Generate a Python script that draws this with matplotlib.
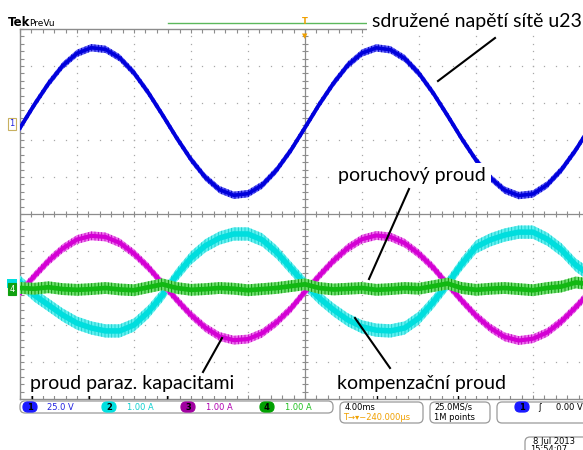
import numpy as np
import matplotlib
matplotlib.use("Agg")
import matplotlib.pyplot as plt
from matplotlib.patches import FancyBboxPatch
from matplotlib.lines import Line2D
from matplotlib.transforms import Affine2D

W, H = 583, 450

# time base: 4 ms/div, 10 div on screen
t_ms = list(range(0, 41))

# CH1 - sdruzene napeti site u23 [V], 25 V/div
u23 = [-2.6, 13.0, 27.4, 39.5, 47.8, 51.6, 50.5, 44.7, 34.6, 21.3,
       6.2, -9.4, -23.9, -35.9, -44.3, -48.1, -47.0, -41.2, -31.1, -17.8,
       -2.4, 13.3, 27.6, 39.8, 48.0, 51.5, 50.2, 44.3, 34.2, 20.9,
       5.8, -9.9, -24.3, -36.2, -44.6, -48.3, -47.2, -41.0, -30.8, -17.5,
       -2.2]

# CH2 - kompenzacni proud [A], 1 A/div
i_komp = [0.16, -0.19, -0.46, -0.73, -0.95, -1.08, -1.16, -1.16, -1.00, -0.65,
          -0.19, 0.35, 0.81, 1.14, 1.35, 1.46, 1.46, 1.30, 0.97, 0.54,
          0.11, -0.27, -0.59, -0.86, -1.05, -1.14, -1.16, -1.08, -0.81, -0.38,
          0.11, 0.65, 1.11, 1.30, 1.43, 1.51, 1.51, 1.32, 1.03, 0.62,
          0.35]

# CH3 - proud paraz. kapacitami [A], 1 A/div
i_par = [-0.12, 0.32, 0.73, 1.07, 1.31, 1.41, 1.38, 1.22, 0.93, 0.56,
         0.12, -0.32, -0.73, -1.07, -1.31, -1.41, -1.38, -1.22, -0.93, -0.56,
         -0.10, 0.33, 0.74, 1.08, 1.32, 1.42, 1.38, 1.21, 0.92, 0.55,
         0.10, -0.34, -0.75, -1.08, -1.32, -1.42, -1.37, -1.20, -0.90, -0.52,
         -0.10]

# CH4 - poruchovy proud [A], 1 A/div
i_por = [0.00, -0.02, 0.02, -0.03, -0.05, -0.03, 0.00, -0.04, -0.06, 0.02,
         0.10, 0.00, -0.05, -0.03, 0.00, -0.02, -0.06, -0.03, 0.00, 0.05,
         0.10, 0.00, -0.04, -0.02, 0.00, -0.05, -0.03, 0.00, -0.02, 0.05,
         0.12, 0.00, -0.05, -0.02, 0.00, -0.03, -0.06, 0.00, 0.04, 0.15,
         0.10]

CH1_POS, CH1_SCALE = 2.43, 25.0
CUR_POS, CUR_SCALE = -2.0, 1.0

GRAY = "#8c8c8c"
plt.rcParams["hatch.linewidth"] = 0.6

fig = plt.figure(figsize=(W / 100, H / 100), dpi=100)
fig.patch.set_facecolor("white")
PX = Affine2D().scale(1 / W, -1 / H).translate(0, 1) + fig.transFigure

ax = fig.add_axes([20 / W, 1 - 399 / H, 570 / W, 370 / H])
ax.set_xlim(0, 40)
ax.set_ylim(-5, 5)
for s in ax.spines.values():
    s.set_color(GRAY)
    s.set_linewidth(1.0)
ax.set_xticks(np.arange(0, 40.01, 0.8))
ax.set_yticks(np.arange(-5, 5.01, 0.2))
ax.set_xticklabels([])
ax.set_yticklabels([])
ax.tick_params(direction="in", length=3, width=0.8, color=GRAY,
               top=True, bottom=True, left=True, right=True)

# dotted graticule
gx = [4, 8, 12, 16, 24, 28, 32, 36]
gy = [-4, -3, -2, -1, 1, 2, 3, 4]
yy = np.arange(-5, 5.01, 0.2)
xx = np.arange(0, 40.01, 0.8)
for x in gx:
    ax.plot([x] * len(yy), yy, ls="none", marker="s", ms=0.9, color="#a8a8a8", mew=0)
for y in gy:
    ax.plot(xx, [y] * len(xx), ls="none", marker="s", ms=0.9, color="#a8a8a8", mew=0)
# centre cross with ticks
ax.axhline(0, color=GRAY, lw=0.9)
ax.axvline(20, color=GRAY, lw=0.9)
ax.plot(xx, [0] * len(xx), ls="none", marker="|", ms=5, color=GRAY, mew=0.8)
ax.plot([20] * len(yy), yy, ls="none", marker="_", ms=5, color=GRAY, mew=0.8)

t = np.array(t_ms)
# (values, band colour, hatch colour, core colour, band half-width [div], core lw, zorder)
traces = [
    (np.array(i_komp) / CUR_SCALE + CUR_POS, "#5ff2f2", "#1ac8c8", "#00dede", 0.18, 4.0, 3),
    (np.array(i_par) / CUR_SCALE + CUR_POS, "#f070f0", "#b800b8", "#d400d4", 0.12, 3.0, 4),
    (np.array(i_por) / CUR_SCALE + CUR_POS, "#6ee06e", "#008c00", "#12b812", 0.16, 3.4, 5),
    (np.array(u23) / CH1_SCALE + CH1_POS, "#5a5aff", "#0000a8", "#0000dc", 0.10, 2.6, 6),
]
for y, band, hc, core, hw, lw, z in traces:
    ax.fill_between(t, y - hw, y + hw, facecolor=band, edgecolor=hc, hatch="|||||",
                    lw=0, zorder=z)
    ax.plot(t, y, color=core, lw=lw, zorder=z, solid_joinstyle="round")

# header
fig.text(8, 23, "Tek", transform=PX, fontsize=8.5, fontweight="bold", va="center")
fig.text(29, 23, "PreVu", transform=PX, fontsize=6.5, va="center")
fig.add_artist(Line2D([168, 372], [23, 23], transform=PX, color="#5cb85c", lw=1))
fig.text(305, 22, "T", transform=PX, fontsize=6, color="#f0a000",
         fontweight="bold", ha="center", va="center")
fig.text(305, 36, "\u25BC", transform=PX, fontsize=5, color="#f0a000",
         ha="center", va="center")

# channel ground markers
fig.text(12, 124, "1", transform=PX, fontsize=6, color="#2020e0", ha="center", va="center",
         bbox=dict(boxstyle="square,pad=0.15", fc="white", ec="#c8b060", lw=0.8))
fig.add_artist(FancyBboxPatch((7, 279), 10, 9, boxstyle="square,pad=0", transform=PX,
                              fc="#00e0e0", ec="none"))
fig.text(12, 289, "4", transform=PX, fontsize=6, color="white", ha="center", va="center",
         bbox=dict(boxstyle="square,pad=0.15", fc="#10a010", ec="#10a010", lw=0.8))

# small black marks on bottom border
for xm in [32, 89, 167, 377, 458]:
    fig.add_artist(Line2D([xm, xm], [392, 398], transform=PX, color="black", lw=1))

# annotations
lab = dict(transform=PX, fontsize=14, family="Lato", va="center", zorder=20,
           bbox=dict(boxstyle="square,pad=0.25", fc="white", ec="none"))
fig.text(372, 21, "sdružené napětí sítě u23", **lab)
fig.text(338, 176, "poruchový proud", **lab)
fig.text(30, 383, "proud paraz. kapacitami", **lab)
fig.text(337, 383, "kompenzační proud", **lab)
for (x0, y0), (x1, y1) in [((438, 81), (495, 38)), ((409, 189), (369, 279)),
                           ((222, 338), (203, 372)), ((355, 318), (390, 368))]:
    fig.add_artist(Line2D([x0, x1], [y0, y1], transform=PX, color="black", lw=1.5, zorder=21))

# status bar
def box(x, y, w, h, ec="#9a9a9a", fc="white", r=5):
    fig.add_artist(FancyBboxPatch((x, y), w, h, boxstyle=f"round,pad=0,rounding_size={r}",
                                  transform=PX, ec=ec, fc=fc, lw=0.9, zorder=30))

def pill(xc, yc, label, color):
    box(xc - 7, yc - 5, 14, 10, ec=color, fc=color, r=5)
    fig.text(xc, yc + 0.5, label, transform=PX, fontsize=6, ha="center", va="center",
             fontweight="bold", color="black", zorder=31)

st = dict(transform=PX, fontsize=6, va="center", zorder=31)
box(20, 401, 313, 12)
pill(30, 407, "1", "#1a1aff")
fig.text(47, 407, "25.0 V", color="#2020e0", **st)
pill(109, 407, "2", "#00e0e0")
fig.text(127, 407, "1.00 A", color="#10d0d0", **st)
pill(188, 407, "3", "#a000a0")
fig.text(206, 407, "1.00 A", color="#b000b0", **st)
pill(267, 407, "4", "#00a000")
fig.text(285, 407, "1.00 A", color="#20c020", **st)

box(340, 402, 83, 21)
fig.text(345, 407, "4.00ms", color="black", **st)
fig.text(343, 418, "T\u2192\u25BE\u2212240.000\u00B5s", color="#f0a000", **st)
box(430, 402, 60, 21)
fig.text(434, 407, "25.0MS/s", color="black", **st)
fig.text(434, 418, "1M points", color="black", **st)
box(497, 402, 110, 21)
pill(522, 407, "1", "#1a1aff")
fig.text(538, 407, "\u0283", color="black", **st)
fig.text(556, 407, "0.00 V", color="black", **st)
box(525, 437, 80, 25)
fig.text(533, 442, "8 Jul 2013", color="black", **st)
fig.text(530, 450, "15:54:07", color="black", **st)

fig.savefig("out.png", dpi=100)
